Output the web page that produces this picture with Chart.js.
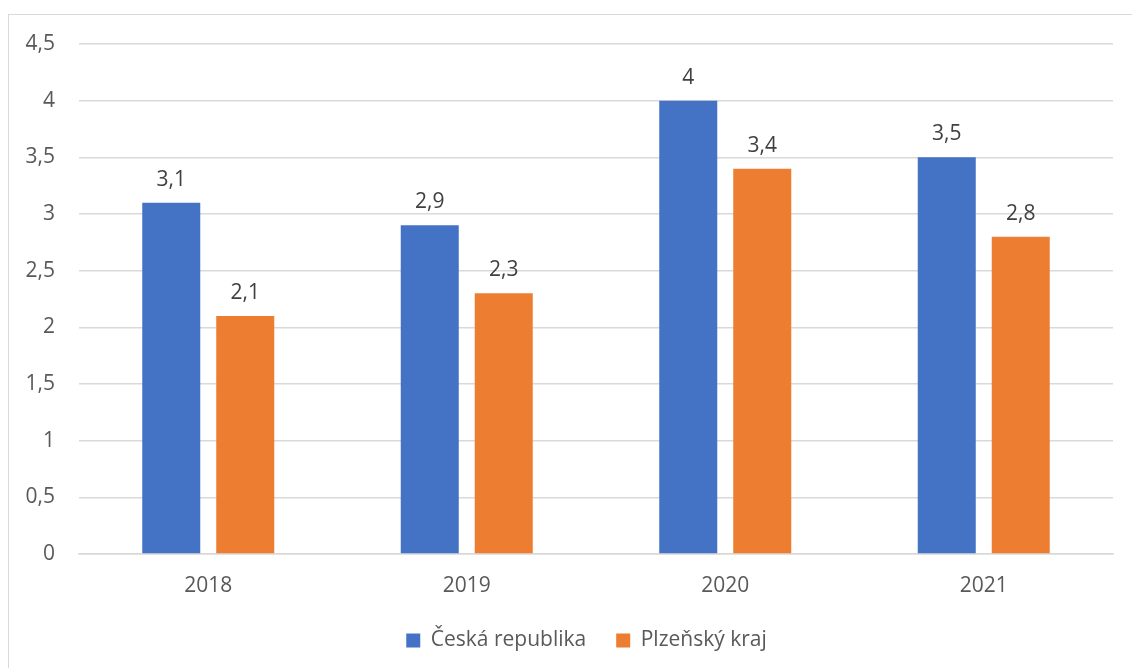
<!DOCTYPE html>
<html>
<head>
<meta charset="utf-8">
<script src="https://cdn.jsdelivr.net/npm/chart.js@4/dist/chart.umd.min.js"></script>
<style>
  html, body { margin: 0; padding: 0; background: #ffffff; overflow: hidden; }
  #frame {
    position: absolute; left: 8px; top: 14px;
    width: 1140px; height: 680px;
    border: 1.5px solid #d9d9d9; box-sizing: border-box;
  }
  #wrap { position: absolute; left: 0; top: 0; width: 1132px; height: 668px; }
</style>
</head>
<body>
<div id="frame"></div>
<div id="wrap"><canvas id="chart" width="1132" height="668"></canvas></div>
<script>
// Years on the x axis
const years = ['2018', '2019', '2020', '2021'];
// Series values
const ceskaRepublika = [3.1, 2.9, 4.0, 3.5];
const plzenskyKraj = [2.1, 2.3, 3.4, 2.8];
// Series names
const seriesNames = ['Česká republika', 'Plzeňský kraj'];

const FONT = '"Open Sans", "Noto Sans", sans-serif';
const fmt = v => String(v).replace('.', ',');

// Value labels above each bar
const valueLabels = {
  id: 'valueLabels',
  afterDatasetsDraw(chart) {
    const ctx = chart.ctx;
    ctx.save();
    ctx.font = '21px ' + FONT;
    ctx.fillStyle = '#404040';
    ctx.textAlign = 'center';
    ctx.textBaseline = 'alphabetic';
    chart.data.datasets.forEach((ds, i) => {
      chart.getDatasetMeta(i).data.forEach((bar, j) => {
        ctx.fillText(fmt(ds.data[j]), bar.x, bar.y - 17);
      });
    });
    ctx.restore();
  }
};

// Center the legend under the whole frame rather than the plot
const legendShift = {
  id: 'legendShift',
  afterLayout(chart) {
    if (chart.legend) {
      chart.legend.left += 30;
      chart.legend.right += 30;
    }
  }
};

new Chart(document.getElementById('chart'), {
  type: 'bar',
  data: {
    labels: years,
    datasets: [
      { label: seriesNames[0], data: ceskaRepublika, backgroundColor: '#4472C4' },
      { label: seriesNames[1], data: plzenskyKraj, backgroundColor: '#ED7D31' }
    ]
  },
  options: {
    responsive: false,
    animation: false,
    devicePixelRatio: 1,
    layout: { padding: { top: 44, right: 19, bottom: 7, left: 0 } },
    datasets: { bar: { categoryPercentage: 0.5725, barPercentage: 0.784 } },
    plugins: {
      tooltip: { enabled: false },
      legend: {
        position: 'bottom',
        labels: {
          boxWidth: 14, boxHeight: 14, padding: 30,
          color: '#595959', font: { family: FONT, size: 21 }
        }
      }
    },
    scales: {
      x: {
        grid: { display: false },
        border: { display: true, color: '#d9d9d9', width: 1.5 },
        ticks: { color: '#595959', font: { family: FONT, size: 21 }, padding: 11 },
        afterFit(scale) { scale.height = 46; }
      },
      y: {
        min: 0, max: 4.5,
        grid: { color: '#d9d9d9', lineWidth: 1.5, drawTicks: false },
        border: { display: false },
        ticks: {
          stepSize: 0.5, padding: 24, color: '#595959',
          font: { family: FONT, size: 21 },
          callback: v => fmt(v)
        },
        afterFit(scale) { scale.width = 79; }
      }
    }
  },
  plugins: [valueLabels, legendShift]
});
</script>
</body>
</html>
